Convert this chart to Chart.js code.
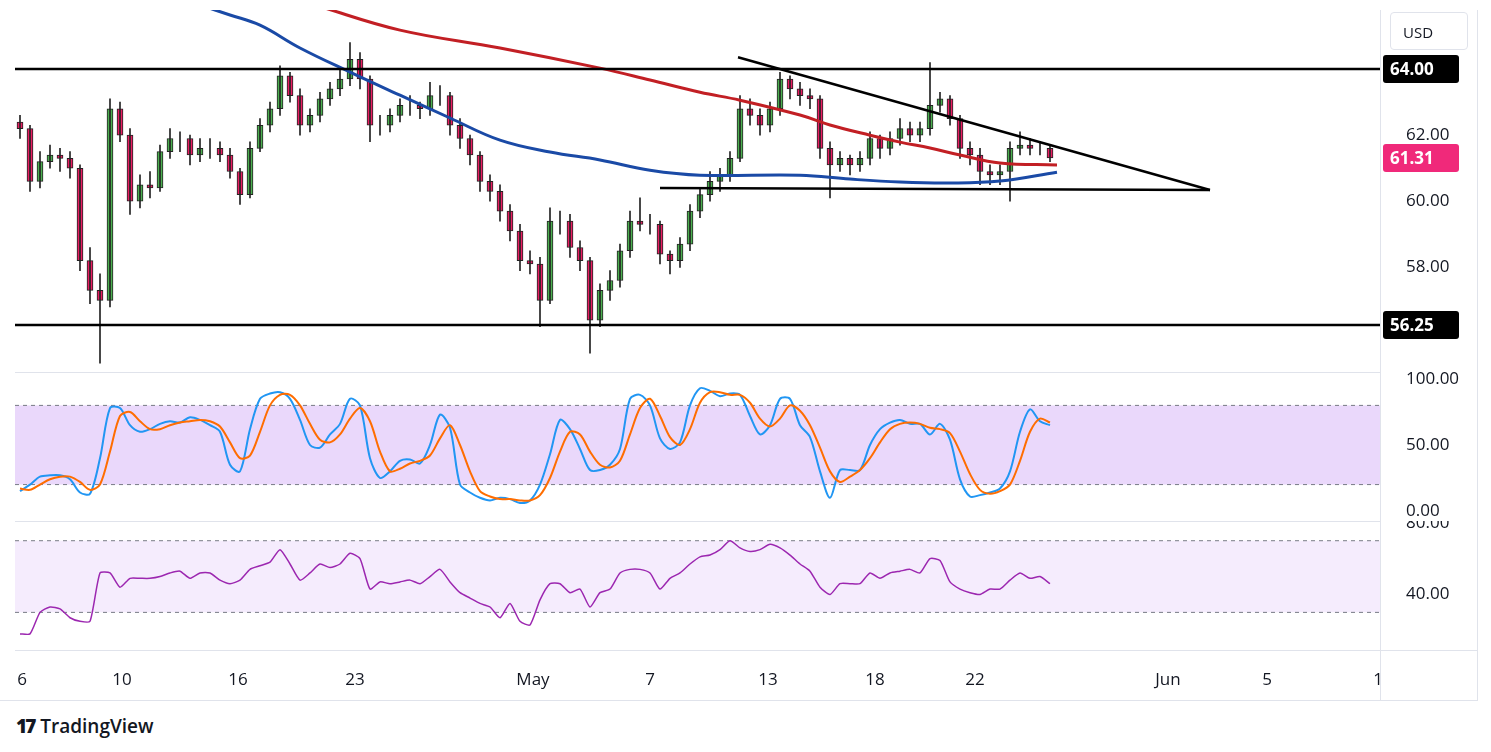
<!DOCTYPE html>
<html>
<head>
<meta charset="utf-8">
<title>Price chart</title>
<script src="https://cdn.jsdelivr.net/npm/chart.js"></script>
<style>
  body { margin:0; background:#fff; font-family:"Open Sans", Roboto, sans-serif; }
  canvas { position:absolute; left:0; }
  .ln { position:absolute; background:#e0e3eb; }
  #logo { position:absolute; left:16px; top:713px; font:600 19px "Open Sans", sans-serif; color:#131722; }
  #logo b { font-weight:900; letter-spacing:-2px; margin-right:6px; }
  #usd { position:absolute; left:1390px; top:12px; width:78px; height:38px; border:1px solid #e0e3eb; border-radius:4px;
         font:15px "Open Sans", sans-serif; color:#131722; line-height:38px; text-align:left; padding-left:12px; box-sizing:border-box; }
</style>
</head>
<body>
<canvas id="main" width="1491" height="362" style="top:10px"></canvas>
<canvas id="stoch" width="1491" height="149" style="top:372px"></canvas>
<canvas id="rsi" width="1491" height="179" style="top:521px"></canvas>
<div class="ln" style="left:15px;top:372px;width:1365px;height:1px"></div>
<div class="ln" style="left:15px;top:521px;width:1365px;height:1px"></div>
<div class="ln" style="left:15px;top:650px;width:1462px;height:1px"></div>
<div class="ln" style="left:1380px;top:10px;width:1px;height:690px"></div>
<div class="ln" style="left:1477px;top:10px;width:1px;height:690px"></div>
<div class="ln" style="left:0px;top:700px;width:1478px;height:1px"></div>
<div id="usd">USD</div>
<div id="logo"><b>17</b>TradingView</div>
<script>
// candles: [open, high, low, close], one every slot (x = i + 0.5)
const candles = [
  [62.4,62.6,61.9,62.2],[62.2,62.3,60.3,60.6],[60.6,61.5,60.4,61.2],[61.2,61.7,61.0,61.4],[61.4,61.6,60.9,61.3],
  [61.3,61.5,60.7,61.0],[61.0,61.1,57.9,58.2],[58.2,58.6,56.9,57.3],[57.3,57.8,55.1,57.0],[57.0,63.1,56.8,62.8],
  [62.8,63.0,61.8,62.0],[62.0,62.2,59.6,60.0],[60.0,60.8,59.8,60.5],[60.5,60.9,60.1,60.4],[60.4,61.7,60.3,61.5],
  [61.5,62.2,61.3,61.9],[61.9,62.1,61.5,61.9],[61.9,62.0,61.1,61.4],[61.4,61.9,61.2,61.6],[61.6,61.9,61.3,61.6],
  [61.6,61.8,61.2,61.4],[61.4,61.6,60.7,60.9],[60.9,61.0,59.9,60.2],[60.2,61.8,60.1,61.6],[61.6,62.5,61.5,62.3],
  [62.3,63.0,62.1,62.8],[62.8,64.1,62.6,63.8],[63.8,63.9,63.0,63.2],[63.2,63.4,62.0,62.3],[62.3,62.8,62.1,62.6],
  [62.6,63.3,62.4,63.1],[63.1,63.6,62.9,63.4],[63.4,64.0,63.2,63.7],[63.7,64.8,63.5,64.3],[64.3,64.5,63.4,63.7],
  [63.7,63.8,61.8,62.3],[62.3,62.6,62.0,62.3],[62.3,62.8,62.1,62.6],[62.6,63.1,62.4,62.9],[62.9,63.2,62.6,62.9],
  [62.9,63.0,62.5,62.8],[62.8,63.6,62.6,63.2],[63.2,63.5,62.9,63.2],[63.2,63.3,62.0,62.3],[62.3,62.5,61.6,61.9],
  [61.9,62.0,61.1,61.4],[61.4,61.5,60.3,60.6],[60.6,60.8,60.0,60.3],[60.3,60.5,59.4,59.7],[59.7,59.9,58.8,59.1],
  [59.1,59.3,57.9,58.2],[58.2,58.5,57.8,58.1],[58.1,58.3,56.2,57.0],[57.0,59.8,56.9,59.4],[59.4,59.7,59.0,59.4],
  [59.4,59.6,58.3,58.6],[58.6,58.8,57.9,58.2],[58.2,58.3,55.4,56.4],[56.4,57.5,56.2,57.3],[57.3,57.9,57.0,57.6],
  [57.6,58.7,57.4,58.5],[58.5,59.7,58.3,59.4],[59.4,60.1,59.1,59.3],[59.3,59.6,59.0,59.3],[59.3,59.4,58.1,58.4],
  [58.4,58.5,57.8,58.2],[58.2,58.9,58.0,58.7],[58.7,59.9,58.5,59.7],[59.7,60.4,59.5,60.2],[60.2,60.9,60.0,60.6],
  [60.6,61.0,60.3,60.8],[60.8,61.5,60.6,61.3],[61.3,63.2,61.2,62.8],[62.8,63.1,62.3,62.6],[62.6,62.8,62.0,62.3],
  [62.3,63.0,62.1,62.8],[62.8,63.9,62.6,63.7],[63.7,63.8,63.1,63.4],[63.4,63.6,62.9,63.2],[63.2,63.4,62.8,63.1],
  [63.1,63.2,61.3,61.6],[61.6,61.8,60.1,61.1],[61.1,61.5,60.9,61.3],[61.3,61.4,60.8,61.1],[61.1,61.5,60.9,61.3],
  [61.3,62.1,61.1,61.9],[61.9,62.0,61.3,61.6],[61.6,62.1,61.4,61.9],[61.9,62.5,61.7,62.2],[62.2,62.4,61.8,62.0],
  [62.0,62.4,61.8,62.2],[62.2,64.2,62.0,62.9],[62.9,63.3,62.7,63.1],[63.1,63.2,62.3,62.5],[62.5,62.6,61.3,61.6],
  [61.6,61.8,61.1,61.4],[61.4,61.6,60.5,60.9],[60.9,61.1,60.5,60.8],[60.8,61.1,60.5,60.9],[60.9,61.8,60.0,61.6],
  [61.6,62.1,61.4,61.7],[61.7,61.9,61.4,61.6],[61.6,61.8,61.4,61.6],[61.6,61.7,61.2,61.31]
];

const maRed = [[30,65.94],[38.5,65.18],[48.5,64.64],[58.5,64.03],[63.5,63.67],[68.5,63.3],[72.5,63.06],[78.5,62.61],
  [81.5,62.31],[85.5,62.0],[88.5,61.79],[91.5,61.61],[94.5,61.4],[98.5,61.16],[104.2,61.1]];
const maBlue = [[18.5,65.94],[21.5,65.64],[24.5,65.33],[28.5,64.64],[33.5,63.91],[38.5,63.21],[43.5,62.52],[48.5,61.85],
  [53.5,61.49],[58.5,61.25],[63.5,60.94],[68.5,60.79],[78.5,60.79],[83.5,60.67],[88.5,60.58],[93.5,60.55],[98.5,60.61],[104.2,60.88]];

const stochK = [15,20,26,27,27,24,14,13,40,78,78,65,60,62,66,68,67,71,69,65,60,35,30,62,85,89,90,85,69,50,48,58,66,85,80,40,25,30,38,39,
  36,50,73,63,20,14,10,8,10,9,6,8,20,43,69,62,47,31,31,35,47,85,88,80,55,47,52,80,93,91,87,89,88,72,58,65,85,85,65,56,
  30,10,31,31,31,50,62,67,69,66,66,58,66,54,24,11,12,14,17,30,60,77,68,65];
const stochD = [17,16,20,24,26,26,22,16,20,45,72,75,68,62,62,65,67,68,69,68,64,52,40,42,60,80,88,88,80,66,54,52,58,70,78,68,45,30,32,36,
  38,42,55,65,50,30,15,11,9,9,8,8,12,25,45,60,58,45,35,33,38,58,78,85,72,56,50,62,82,90,90,88,88,82,70,64,70,80,76,65,
  48,30,22,26,31,40,52,62,66,67,66,63,62,59,45,28,16,13,15,20,38,60,70,67];
const rsi = [18,18,30,33,32,27,25,25,52,52,44,49,49,49,50,52,53,49,52,52,48,46,48,54,56,58,65,57,48,52,57,55,57,63,60,43,47,46,47,48,
  46,50,54,47,41,38,35,33,27,35,25,23,37,46,46,41,43,33,41,43,52,54,54,52,43,49,52,57,61,62,65,70,66,64,65,68,66,62,57,53,
  44,40,46,46,46,52,49,52,53,54,52,60,59,47,43,41,40,43,43,48,52,49,50,46];

const XMAX = 136.5;
const tickFont = { family: "Open Sans", size: 17 };
const pts = arr => arr.map((v, i) => ({ x: i + 0.5, y: v }));
const fixedWidth = s => { s.width = 97; s.paddingTop = 0; s.paddingBottom = 0; };

function xScale(show) {
  const dates = { 0.7:"6", 10.7:"10", 22.3:"16", 34:"23", 51.8:"May", 63.5:"7", 75.3:"13", 86:"18", 96:"22", 115.3:"Jun", 125.2:"5", 136.3:"1" };
  return {
    type: "linear", min: 0, max: XMAX, offset: false, display: show,
    grid: { display: false }, border: { display: false },
    afterBuildTicks: s => { s.ticks = Object.keys(dates).map(v => ({ value: +v })); },
    afterFit: s => { if (show) { s.height = 50; s.paddingLeft = 0; s.paddingRight = 0; } },
    ticks: { font: tickFont, color: "#131722", maxRotation: 0, autoSkip: false, padding: 12,
      callback: v => dates[v] || dates[String(v)] || "" }
  };
}

// lavender band + dashed bounds
function bandPlugin(lo, hi, color) {
  return {
    id: "band",
    beforeDatasetsDraw(chart) {
      const { ctx, chartArea: a, scales: { y } } = chart;
      const yt = y.getPixelForValue(hi), yb = y.getPixelForValue(lo);
      ctx.save();
      ctx.fillStyle = color;
      ctx.fillRect(a.left, yt, a.right - a.left, yb - yt);
      ctx.strokeStyle = "#787b86";
      ctx.setLineDash([4, 4]);
      ctx.lineWidth = 1;
      [yt, yb].forEach(p => { ctx.beginPath(); ctx.moveTo(a.left, p); ctx.lineTo(a.right, p); ctx.stroke(); });
      ctx.restore();
    }
  };
}

const priceTags = {
  id: "priceTags",
  afterDraw(chart) {
    const { ctx, chartArea: a, scales: { y } } = chart;
    [[64, "64.00", "#000"], [56.25, "56.25", "#000"], [61.31, "61.31", "#f0297a"]].forEach(([v, t, c]) => {
      const p = y.getPixelForValue(v);
      ctx.save();
      ctx.fillStyle = c;
      ctx.beginPath();
      ctx.roundRect(a.right + 3, p - 14, 76, 28, 3);
      ctx.fill();
      ctx.fillStyle = "#fff";
      ctx.font = "bold 17px 'Open Sans'";
      ctx.textBaseline = "middle";
      ctx.fillText(t, a.right + 10, p + 1);
      ctx.restore();
    });
  }
};

const common = {
  responsive: false, animation: false,
  layout: { padding: { left: 15, right: 14, top: 0, bottom: 0 } },
  plugins: { legend: { display: false }, tooltip: { enabled: false } }
};
function yScale(min, max, ticks) {
  return { position: "right", min, max, afterFit: fixedWidth,
    grid: { display: false }, border: { display: false },
    afterBuildTicks: s => { s.ticks = ticks.map(v => ({ value: v })); },
    ticks: { font: tickFont, color: "#131722", padding: 18, callback: v => v.toFixed(2) } };
}

const up = c => c[3] >= c[0];
new Chart(document.getElementById("main"), {
  type: "bar",
  data: {
    datasets: [
      { type: "line", data: [{ x: 0, y: 64 }, { x: XMAX, y: 64 }], borderColor: "#000", borderWidth: 2.5, pointRadius: 0 },
      { type: "line", data: [{ x: 0, y: 56.25 }, { x: XMAX, y: 56.25 }], borderColor: "#000", borderWidth: 2.5, pointRadius: 0 },
      { type: "line", data: [{ x: 72.3, y: 64.36 }, { x: 119.5, y: 60.34 }], borderColor: "#000", borderWidth: 2.5, pointRadius: 0 },
      { type: "line", data: [{ x: 64.5, y: 60.4 }, { x: 119.5, y: 60.34 }], borderColor: "#000", borderWidth: 2.5, pointRadius: 0 },
      { type: "line", data: maRed.map(p => ({ x: p[0], y: p[1] })), borderColor: "#c21f24", borderWidth: 3, pointRadius: 0, tension: 0.4 },
      { type: "line", data: maBlue.map(p => ({ x: p[0], y: p[1] })), borderColor: "#1a4aa6", borderWidth: 3, pointRadius: 0, tension: 0.4 },
      { data: candles.map((c, i) => ({ x: i + 0.5, y: [c[2], c[1]] })), backgroundColor: "#222", barThickness: 1, grouped: false },
      { data: candles.map((c, i) => ({ x: i + 0.5, y: [c[0], c[3]] })), grouped: false, barThickness: 6,
        backgroundColor: candles.map(c => up(c) ? "#4caf50" : "#e91e63"), borderColor: "#222", borderWidth: 1, borderSkipped: false }
    ]
  },
  options: { ...common, scales: { x: xScale(false), y: yScale(54.83, 65.79, [58, 60, 62]) } },
  plugins: [priceTags]
});

new Chart(document.getElementById("stoch"), {
  type: "line",
  data: { datasets: [
    { data: pts(stochD), borderColor: "#ff6d00", borderWidth: 2, pointRadius: 0, tension: 0.3 },
    { data: pts(stochK), borderColor: "#2196f3", borderWidth: 2, pointRadius: 0, tension: 0.3 }
  ] },
  options: { ...common, scales: { x: xScale(false), y: yScale(-7.6, 105.3, [0, 50, 100]) } },
  plugins: [bandPlugin(20, 80, "rgba(170,100,240,0.25)")]
});

new Chart(document.getElementById("rsi"), {
  type: "line",
  data: { datasets: [
    { data: pts(rsi), borderColor: "#9c27b0", borderWidth: 1.5, pointRadius: 0, tension: 0.2 }
  ] },
  options: { ...common, scales: { x: xScale(true), y: yScale(9, 81, [40, 80]) } },
  plugins: [bandPlugin(30, 70, "rgba(170,100,240,0.12)")]
});
</script>
</body>
</html>
